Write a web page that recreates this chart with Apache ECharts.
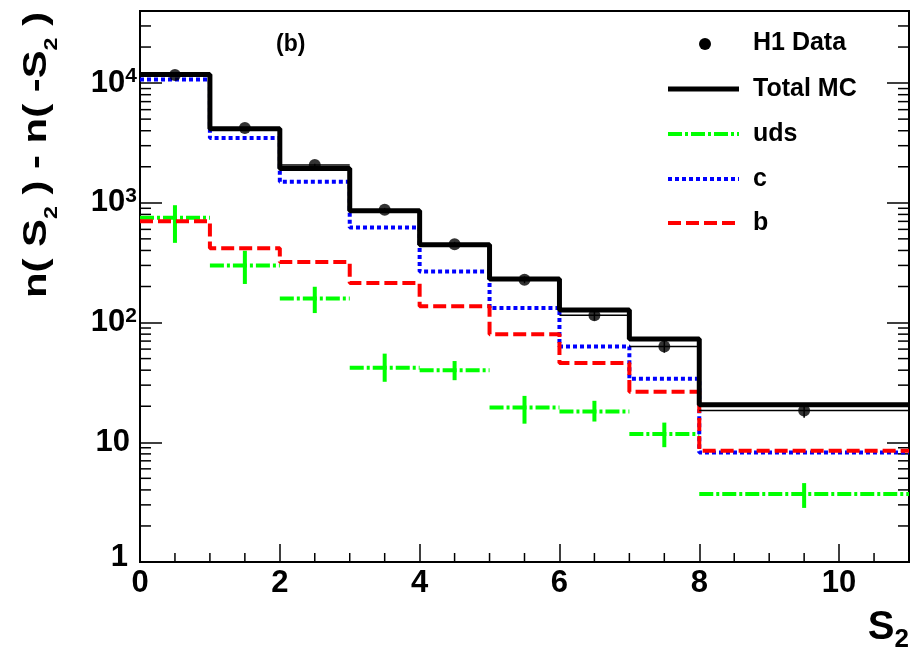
<!DOCTYPE html>
<html><head><meta charset="utf-8">
<script src="https://cdn.jsdelivr.net/npm/echarts@6/dist/echarts.min.js"></script>
<style>html,body{margin:0;padding:0;background:#fff}#c{width:921px;height:655px}</style>
</head><body><div id="c"></div>
<script>
// ---- data ----
const binEdges = [0, 1, 2, 3, 4, 5, 6, 7, 8, 11];
const totalMC  = [11800, 4150, 1930, 860, 446, 231, 127, 73, 20.6];
const cMC      = [10700, 3480, 1500, 621, 267, 132, 63, 34, 8.2];
const bMC      = [700, 418, 320, 214, 137, 80, 46, 26.4, 8.5];
const udsVal   = [752, 300, 159, 42, 40, 19.5, 18.1, 11.7, 3.7];
const udsLow   = [463, 210, 120, 32, 33, 14.3, 14.9, 9.1, 2.83];
const udsHigh  = [955, 398, 199, 55, 47.7, 24.4, 22.2, 14.6, 4.56];
const h1Data   = [11700, 4210, 2070, 877, 451, 228, 115, 63, 18.4];
const h1Err    = [110, 65, 45, 30, 21, 15, 11, 7, 2.4];
const xTickLabels = ['0', '2', '4', '6', '8', '10'];
const legendLabels = ['H1 Data', 'Total MC', 'uds', 'c', 'b'];
const panelLabel = '(b)';

const X_MIN = 0, X_MAX = 11, Y_MIN = 1, Y_MAX = 40000;
const FONT = 'Liberation Sans, Arial, Helvetica, sans-serif';

function stepData(vals) {
  return binEdges.map((e, i) => [e, vals[Math.min(i, vals.length - 1)]]);
}
function binRows(vals, lo, hi) {
  return vals.map((v, i) => [binEdges[i], binEdges[i + 1], (binEdges[i] + binEdges[i + 1]) / 2, v, lo[i], hi[i]]);
}
// minor tick positions (axis furniture)
const yMinor = [];
for (let k = 0; k <= 4; k++) for (let m = 2; m <= 9; m++) { const v = m * Math.pow(10, k); if (v < Y_MAX) yMinor.push([X_MIN, v]); }
const xMinor = [];
for (let i = 1; i < 22; i++) { const x = i * 0.5; if (x % 2 !== 0) xMinor.push([x, Y_MIN]); }

const GREEN = '#00ff00', BLUE = '#0000ff', RED = '#ff0000', BLACK = '#000000';

function renderUds(params, api) {
  const a = api.coord([api.value(0), api.value(3)]);
  const b = api.coord([api.value(1), api.value(3)]);
  const c1 = api.coord([api.value(2), api.value(4)]);
  const c2 = api.coord([api.value(2), api.value(5)]);
  return { type: 'group', children: [
    { type: 'line', shape: { x1: a[0], y1: a[1], x2: b[0], y2: b[1] }, style: { stroke: GREEN, lineWidth: 4, lineDash: [14, 3, 3, 3] } },
    { type: 'line', shape: { x1: c1[0], y1: c1[1], x2: c2[0], y2: c2[1] }, style: { stroke: GREEN, lineWidth: 4 } }
  ]};
}
function renderDataBars(params, api) {
  const a = api.coord([api.value(0), api.value(3)]);
  const b = api.coord([api.value(1), api.value(3)]);
  const c1 = api.coord([api.value(2), api.value(4)]);
  const c2 = api.coord([api.value(2), api.value(5)]);
  return { type: 'group', children: [
    { type: 'line', shape: { x1: a[0], y1: a[1], x2: b[0], y2: b[1] }, style: { stroke: BLACK, lineWidth: 1.5 } },
    { type: 'line', shape: { x1: c1[0], y1: c1[1], x2: c2[0], y2: c2[1] }, style: { stroke: BLACK, lineWidth: 1.5 } }
  ]};
}
function renderYMinor(params, api) {
  const pL = api.coord([X_MIN, api.value(1)]);
  const pR = api.coord([X_MAX, api.value(1)]);
  return { type: 'group', children: [
    { type: 'line', shape: { x1: pL[0], y1: pL[1], x2: pL[0] + 11, y2: pL[1] }, style: { stroke: BLACK, lineWidth: 1.5 } },
    { type: 'line', shape: { x1: pR[0], y1: pR[1], x2: pR[0] - 11, y2: pR[1] }, style: { stroke: BLACK, lineWidth: 1.5 } }
  ]};
}
function renderXMinor(params, api) {
  const p = api.coord([api.value(0), Y_MIN]);
  return { type: 'line', shape: { x1: p[0], y1: p[1], x2: p[0], y2: p[1] - 9 }, style: { stroke: BLACK, lineWidth: 1.5 } };
}

const dataErrLow = h1Data.map((v, i) => v - h1Err[i]);
const dataErrHigh = h1Data.map((v, i) => v + h1Err[i]);

function yLabel(v) {
  const k = Math.round(Math.log10(v));
  if (Math.abs(Math.pow(10, k) - v) > 1e-6 * v || v >= Y_MAX) return '';
  if (k === 0) return '{q|1}';
  if (k === 1) return '{p|10}';
  return '{b|10}{s|' + k + '}';
}

const chart = echarts.init(document.getElementById('c'), null, { renderer: 'canvas' });
const legendY = [43, 89, 134, 179, 223];
const legendX0 = 668, legendX1 = 739, legendTextX = 753;

const option = {
  animation: false,
  backgroundColor: '#ffffff',
  grid: { left: 140, right: 12, top: 11, bottom: 93, show: true, borderColor: BLACK, borderWidth: 2, backgroundColor: 'transparent' },
  xAxis: {
    type: 'value', min: X_MIN, max: X_MAX, interval: 2,
    axisLine: { show: true, lineStyle: { color: BLACK, width: 2 } },
    axisTick: { show: true, inside: true, length: 18, lineStyle: { color: BLACK, width: 1.5 } },
    splitLine: { show: false },
    axisLabel: {
      margin: 6, color: BLACK, fontFamily: FONT, fontWeight: 'bold', fontSize: 31,
      formatter: v => (xTickLabels.indexOf(String(v)) >= 0 ? String(v) : '')
    }
  },
  yAxis: [{
    type: 'log', logBase: 10, min: Y_MIN, max: Y_MAX, position: 'left',
    axisLine: { show: true, lineStyle: { color: BLACK, width: 2 } },
    axisTick: { show: true, inside: true, length: 22, lineStyle: { color: BLACK, width: 1.5 } },
    splitLine: { show: false },
    axisLabel: {
      margin: 3, color: BLACK, formatter: yLabel,
      rich: {
        q: { fontFamily: FONT, fontWeight: 'bold', fontSize: 31, color: BLACK, padding: [0, 9, 10, 0], lineHeight: 34 },
        p: { fontFamily: FONT, fontWeight: 'bold', fontSize: 31, color: BLACK, padding: [0, 7, 0, 0], lineHeight: 34 },
        b: { fontFamily: FONT, fontWeight: 'bold', fontSize: 31, color: BLACK, lineHeight: 34 },
        s: { fontFamily: FONT, fontWeight: 'bold', fontSize: 21, color: BLACK, verticalAlign: 'top', lineHeight: 22 }
      }
    }
  }, {
    type: 'log', logBase: 10, min: Y_MIN, max: Y_MAX, position: 'right',
    axisLine: { show: true, lineStyle: { color: BLACK, width: 2 } },
    axisTick: { show: true, inside: true, length: 22, lineStyle: { color: BLACK, width: 1.5 } },
    splitLine: { show: false },
    axisLabel: { show: false }
  }],
  series: [
    { type: 'custom', name: 'yMinor', data: yMinor, renderItem: renderYMinor, silent: true, encode: { x: 0, y: 1 }, z: 1 },
    { type: 'custom', name: 'xMinor', data: xMinor, renderItem: renderXMinor, silent: true, encode: { x: 0, y: 1 }, z: 1 },
    { type: 'custom', name: legendLabels[2], data: binRows(udsVal, udsLow, udsHigh), renderItem: renderUds, encode: { x: [0, 1, 2], y: [3, 4, 5] }, z: 2 },
    { type: 'line', name: legendLabels[3], data: stepData(cMC), step: 'end', showSymbol: false, lineStyle: { color: BLUE, width: 4, type: [4, 3] }, z: 3 },
    { type: 'line', name: legendLabels[4], data: stepData(bMC), step: 'end', showSymbol: false, lineStyle: { color: RED, width: 4, type: [13, 5] }, z: 4 },
    { type: 'line', name: legendLabels[1], data: stepData(totalMC), step: 'end', showSymbol: false, lineStyle: { color: BLACK, width: 5 }, z: 5 },
    { type: 'custom', name: 'H1 bars', data: binRows(h1Data, dataErrLow, dataErrHigh), renderItem: renderDataBars, encode: { x: [0, 1, 2], y: [3, 4, 5] }, z: 6 },
    { type: 'scatter', name: legendLabels[0], data: h1Data.map((v, i) => [(binEdges[i] + binEdges[i + 1]) / 2, v]), symbol: 'circle', symbolSize: 12, itemStyle: { color: BLACK }, z: 7 }
  ],
  graphic: [
    { type: 'text', left: 276, top: 33, style: { text: panelLabel, fontFamily: FONT, fontWeight: 'bold', fontSize: 23, fill: BLACK } },
    { type: 'circle', shape: { cx: 705, cy: legendY[0] + 1, r: 6 }, style: { fill: BLACK } },
    { type: 'line', shape: { x1: legendX0, y1: legendY[1], x2: legendX1, y2: legendY[1] }, style: { stroke: BLACK, lineWidth: 5 } },
    { type: 'line', shape: { x1: legendX0, y1: legendY[2], x2: legendX1, y2: legendY[2] }, style: { stroke: GREEN, lineWidth: 4, lineDash: [14, 3, 3, 3] } },
    { type: 'line', shape: { x1: legendX0, y1: legendY[3], x2: legendX1, y2: legendY[3] }, style: { stroke: BLUE, lineWidth: 4, lineDash: [4, 3] } },
    { type: 'line', shape: { x1: legendX0, y1: legendY[4], x2: legendX1, y2: legendY[4] }, style: { stroke: RED, lineWidth: 4, lineDash: [13, 5] } }
  ].concat(legendLabels.map((t, i) => ({
    type: 'text', x: legendTextX, y: legendY[i],
    style: { text: t, fontFamily: FONT, fontWeight: 'bold', fontSize: 25, fill: BLACK, align: 'left', verticalAlign: 'middle' }
  }))).concat([
    { type: 'text', x: 37, y: 155, rotation: Math.PI / 2, scaleX: 1.23,
      style: { text: '{t|n( S}{u|2}{t| ) - n( -S}{u|2}{t| )}', align: 'center', verticalAlign: 'middle',
        rich: {
          t: { fontFamily: FONT, fontWeight: 'bold', fontSize: 34, fill: BLACK, lineHeight: 48 },
          u: { fontFamily: FONT, fontWeight: 'bold', fontSize: 19, fill: BLACK, lineHeight: 12, verticalAlign: 'bottom' }
        } } },
    { type: 'text', x: 909, y: 628,
      style: { text: '{t|S}{u|2}', align: 'right', verticalAlign: 'middle',
        rich: {
          t: { fontFamily: FONT, fontWeight: 'bold', fontSize: 40, fill: BLACK, lineHeight: 50 },
          u: { fontFamily: FONT, fontWeight: 'bold', fontSize: 26, fill: BLACK, lineHeight: 20, verticalAlign: 'bottom' }
        } } }
  ])
};
chart.setOption(option);
</script>
</body></html>
